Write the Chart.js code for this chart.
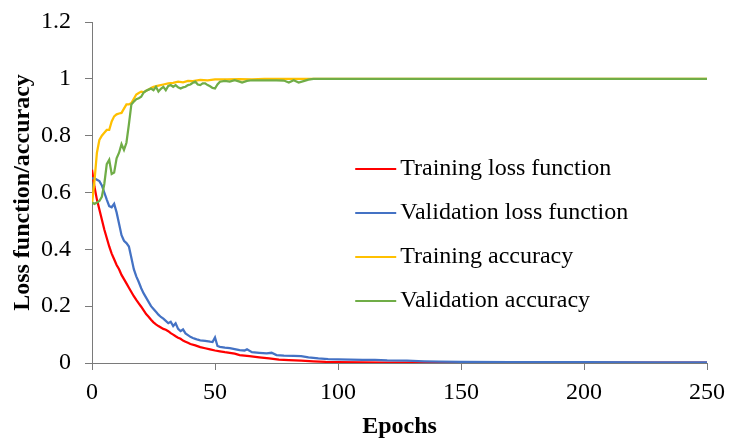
<!DOCTYPE html>
<html>
<head>
<meta charset="utf-8">
<title>Loss and accuracy</title>
<script src="https://cdn.jsdelivr.net/npm/chart.js@4.4.1/dist/chart.umd.min.js"></script>
<style>
  html, body { margin: 0; padding: 0; background: #fff; }
  #wrap { width: 729px; height: 438px; }
</style>
</head>
<body>
<div id="wrap"><canvas id="lossChart" width="729" height="438"></canvas></div>
<script>
// ---------- Data ----------
const trainLossEpochs = [0,1,2,3,4,5,6,7,8,9,10,11,12,13,14,15,16,17,18,19,20,21,22,23,24,25,26,27,28,29,30,31,32,33,34,35,36,37,38,39,40,42,44,46,48,50,52,54,56,58,60,64,68,72,76,80,85,90,95,100,110,120,140,170,200,250];
const trainLoss = [0.68,0.62,0.575,0.54,0.505,0.47,0.44,0.41,0.385,0.365,0.345,0.33,0.31,0.295,0.28,0.265,0.25,0.235,0.222,0.21,0.198,0.185,0.172,0.163,0.152,0.143,0.136,0.13,0.125,0.12,0.117,0.112,0.105,0.1,0.094,0.089,0.085,0.079,0.075,0.071,0.067,0.062,0.056,0.052,0.048,0.044,0.041,0.038,0.036,0.033,0.028,0.024,0.02,0.016,0.012,0.01,0.008,0.006,0.004,0.003,0.002,0.0015,0.001,0.001,0.001,0.001];

const valLossEpochs = [0,1,2,3,4,5,6,7,8,9,10,11,12,13,14,15,16,17,18,19,20,21,22,23,24,25,26,27,28,29,30,31,32,33,34,35,36,37,38,39,40,41,42,43,44,46,48,49,50,51,52,54,56,58,60,62,63,65,68,71,73,75,78,82,85,88,92,96,100,105,110,115,120,128,135,141,150,170,200,230,250];
const valLoss = [0.65,0.65,0.645,0.64,0.625,0.6,0.575,0.552,0.548,0.56,0.53,0.49,0.45,0.43,0.422,0.41,0.37,0.33,0.305,0.285,0.263,0.245,0.23,0.215,0.2,0.19,0.18,0.17,0.162,0.156,0.148,0.14,0.145,0.13,0.14,0.12,0.112,0.118,0.104,0.098,0.092,0.088,0.085,0.082,0.08,0.078,0.075,0.074,0.09,0.06,0.057,0.054,0.052,0.049,0.045,0.044,0.048,0.038,0.036,0.034,0.036,0.028,0.026,0.025,0.024,0.02,0.016,0.014,0.013,0.012,0.011,0.011,0.009,0.008,0.006,0.005,0.004,0.003,0.003,0.002,0.002];

const trainAccEpochs = [0,1,2,3,4,5,6,7,8,9,10,11,12,13,14,15,16,17,18,19,20,21,22,23,24,25,27,29,31,33,35,37,39,41,44,47,50,55,60,65,70,75,250];
const trainAcc = [0.56,0.64,0.74,0.785,0.8,0.81,0.82,0.82,0.85,0.868,0.875,0.878,0.88,0.895,0.91,0.91,0.915,0.93,0.945,0.95,0.955,0.953,0.958,0.962,0.968,0.972,0.976,0.98,0.984,0.986,0.99,0.988,0.993,0.992,0.996,0.995,0.998,0.998,0.999,0.998,1,1,1];

const valAccEpochs = [0,1,2,3,4,5,6,7,8,9,10,11,12,13,14,15,16,17,18,19,20,21,22,23,24,25,26,27,28,29,30,31,32,33,34,35,36,37,38,39,40,41,42,43,44,45,46,47,48,49,50,51,52,54,56,58,60,61,63,65,70,75,78,80,82,84,86,88,90,250];
const valAcc = [0.565,0.56,0.565,0.57,0.585,0.63,0.7,0.715,0.665,0.67,0.72,0.74,0.77,0.75,0.775,0.84,0.91,0.92,0.928,0.932,0.937,0.952,0.958,0.962,0.966,0.96,0.972,0.955,0.965,0.972,0.96,0.975,0.978,0.972,0.978,0.97,0.966,0.97,0.972,0.978,0.98,0.986,0.99,0.98,0.978,0.984,0.984,0.978,0.974,0.968,0.966,0.98,0.99,0.993,0.99,0.995,0.99,0.987,0.993,0.995,0.995,0.995,0.994,0.987,0.995,0.987,0.992,0.997,1,1];

const seriesNames = ["Training loss function", "Validation loss function", "Training accuracy", "Validation accuracy"];
const seriesColors = ["#FF0000", "#4472C4", "#FFC000", "#70AD47"];

const xTicks = [0, 50, 100, 150, 200, 250];
const yTicks = [0, 0.2, 0.4, 0.6, 0.8, 1, 1.2];

// ---------- Helpers ----------
const FONT = "'Liberation Serif', 'Times New Roman', serif";
const AXIS_GRAY = "#7a7a7a";
const toPoints = (xs, ys) => xs.map((x, i) => ({ x, y: ys[i] }));
const fmtTick = (v) => String(Math.round(v * 10) / 10);

// legend drawn inside the plot, stacked rows with a short line sample
const insideLegend = {
  id: "insideLegend",
  afterDraw(chart) {
    const { ctx, chartArea: ca } = chart;
    const w = ca.right - ca.left;
    const h = ca.bottom - ca.top;
    const x0 = ca.left + 0.428 * w;
    const lineLen = 41;
    ctx.save();
    ctx.font = "24px " + FONT;
    ctx.textBaseline = "middle";
    ctx.textAlign = "left";
    chart.data.datasets.forEach((ds, i) => {
      const y = ca.top + 0.431 * h + i * 44;
      ctx.strokeStyle = ds.borderColor;
      ctx.lineWidth = 2;
      ctx.beginPath();
      ctx.moveTo(x0, y);
      ctx.lineTo(x0 + lineLen, y);
      ctx.stroke();
      ctx.fillStyle = "#000";
      ctx.fillText(ds.label, x0 + lineLen + 4, y);
    });
    ctx.restore();
  },
};

// ---------- Chart ----------
const lineSets = [
  [trainLossEpochs, trainLoss],
  [valLossEpochs, valLoss],
  [trainAccEpochs, trainAcc],
  [valAccEpochs, valAcc],
];

new Chart(document.getElementById("lossChart"), {
  type: "line",
  data: {
    datasets: lineSets.map(([xs, ys], i) => ({
      label: seriesNames[i],
      data: toPoints(xs, ys),
      borderColor: seriesColors[i],
      backgroundColor: seriesColors[i],
      borderWidth: 2.25,
      pointRadius: 0,
      tension: 0,
      fill: false,
      order: 4 - i,
    })),
  },
  options: {
    responsive: false,
    animation: false,
    devicePixelRatio: 1,
    layout: { padding: { left: 0, right: 22, top: 22, bottom: 0 } },
    plugins: { legend: { display: false }, tooltip: { enabled: false } },
    scales: {
      x: {
        type: "linear",
        min: 0,
        max: 250,
        afterBuildTicks: (s) => { s.ticks = xTicks.map((v) => ({ value: v })); },
        afterFit: (s) => { s.height = 75; s.paddingLeft = 0; s.paddingRight = 0; },
        ticks: { color: "#000", font: { family: FONT, size: 24 }, padding: 8, maxRotation: 0 },
        grid: { display: true, drawOnChartArea: false, drawTicks: true, tickLength: 7, color: AXIS_GRAY },
        border: { display: true, color: AXIS_GRAY, width: 1 },
        title: {
          display: true,
          text: "Epochs",
          color: "#000",
          font: { family: FONT, size: 24, weight: "bold" },
          padding: { top: 0, bottom: -3 },
        },
      },
      y: {
        min: 0,
        max: 1.2,
        afterBuildTicks: (s) => { s.ticks = yTicks.map((v) => ({ value: v })); },
        afterFit: (s) => { s.width = 92; s.paddingTop = 0; s.paddingBottom = 0; },
        ticks: { color: "#000", font: { family: FONT, size: 24 }, padding: 14, callback: fmtTick },
        grid: { display: true, drawOnChartArea: false, drawTicks: true, tickLength: 7, color: AXIS_GRAY },
        border: { display: true, color: AXIS_GRAY, width: 1 },
        title: {
          display: true,
          text: "Loss function/accuracy",
          color: "#000",
          font: { family: FONT, size: 24, weight: "bold" },
          padding: { top: 8, bottom: 0 },
        },
      },
    },
  },
  plugins: [insideLegend],
});
</script>
</body>
</html>
